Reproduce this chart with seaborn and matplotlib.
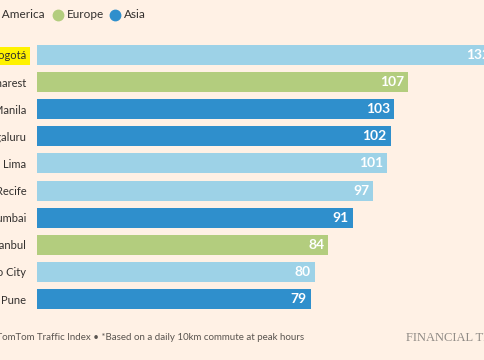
import matplotlib
matplotlib.use('Agg')
import matplotlib.pyplot as plt
import seaborn as sns
from matplotlib.lines import Line2D

cities = ['Bogotá', 'Bucharest', 'Manila', 'Bengaluru', 'Lima', 'Recife',
          'Mumbai', 'Istanbul', 'Mexico City', 'Pune']
hours = [132, 107, 103, 102, 101, 97, 91, 84, 80, 79]
regions = ['Latin America', 'Europe', 'Asia', 'Asia', 'Latin America', 'Latin America',
           'Asia', 'Europe', 'Latin America', 'Asia']
region_names = ['Latin America', 'Europe', 'Asia']
region_colors = ['#9dd2e7', '#b3cd7e', '#2f8fcc']

bg = '#fff1e5'
txt = '#33302e'

sns.set_theme(style='white')
plt.rcParams['font.family'] = ['Lato', 'DejaVu Sans']

W, H = 485, 360
fig = plt.figure(figsize=(W / 100, H / 100), dpi=100, facecolor=bg)
# axes placed in pixels: zero line at x~37, first bar centre y~55, last ~299
ax = fig.add_axes([37.3 / W, (H - 312.6) / H, 1 - 37.3 / W, (312.6 - 41.4) / H])
ax.set_facecolor(bg)

sns.barplot(x=hours, y=cities, hue=regions, hue_order=region_names,
            palette=dict(zip(region_names, region_colors)), dodge=False,
            legend=False, orient='h', width=0.74, saturation=1, linewidth=0, ax=ax)

ax.set_xlim(0, 129.2)
ax.set_ylim(9.5, -0.5)
ax.set_xticks([])
ax.set_xlabel('')
ax.set_ylabel('')
for s in ax.spines.values():
    s.set_visible(False)
ax.tick_params(axis='y', length=0, pad=8, labelsize=8, labelcolor=txt)

for lab in ax.get_yticklabels():
    if lab.get_text() == 'Bogotá':
        lab.set_bbox(dict(facecolor='#fff200', edgecolor='none', pad=2.8))

for i, v in enumerate(hours):
    ax.annotate(str(v), xy=(v, i), xytext=(-3, 0), textcoords='offset points',
                ha='right', va='center', color='white', fontsize=10,
                fontweight='bold', annotation_clip=False)

# legend row at top
ly = 1 - 15 / H
fig.text(45 / W, ly, 'Latin America', ha='right', va='center', fontsize=8.5, color=txt)
for name, col, cx in zip(region_names[1:], region_colors[1:], [58, 115]):
    fig.add_artist(Line2D([cx / W], [ly], marker='o', markersize=7.5, color=col,
                          linestyle='none', transform=fig.transFigure))
    fig.text((cx + 9) / W, ly, name, ha='left', va='center', fontsize=8.5, color=txt)

fig.text(304 / W, 1 - 338 / H,
         'Source: TomTom Traffic Index • *Based on a daily 10km commute at peak hours',
         ha='right', va='center', fontsize=7, color='#5a5550')
fig.text(406 / W, 1 - 338 / H, 'FINANCIAL TIMES', ha='left', va='center',
         fontsize=9, color='#8f8a85', family='Liberation Serif')

fig.savefig('out.png', dpi=100, facecolor=bg)
